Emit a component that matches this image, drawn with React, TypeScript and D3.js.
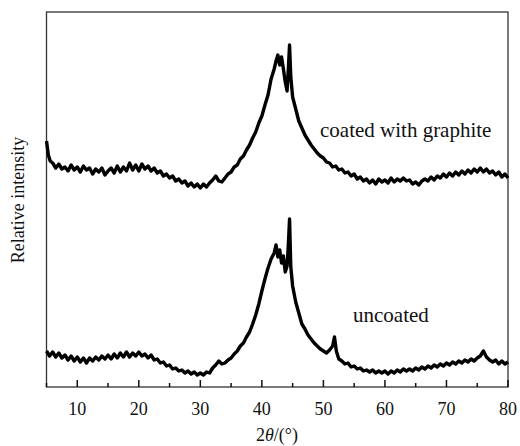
import React from "react";
import * as d3 from "d3";

const coatedTheta = [5.0,5.3,5.6,6.0,6.5,7.0,7.5,8.0,8.5,9.0,9.5,10.0,10.5,11.0,11.5,12.0,12.5,13.0,13.5,14.0,14.5,15.0,15.5,16.0,16.5,17.0,17.5,18.0,18.5,19.0,19.5,20.0,20.5,21.0,21.5,22.0,22.5,23.0,23.5,24.0,24.5,25.0,25.5,26.0,26.5,27.0,27.5,28.0,28.5,29.0,29.5,30.0,30.5,31.0,31.5,32.0,32.5,33.0,33.5,34.0,34.5,35.0,35.5,36.0,36.5,37.0,37.5,38.0,38.5,39.0,39.5,40.0,40.5,41.0,41.5,42.0,42.3,42.6,42.9,43.2,43.5,43.8,44.1,44.3,44.5,44.7,45.0,45.5,46.0,46.5,47.0,47.5,48.0,48.5,49.0,49.5,50.0,50.5,51.0,51.5,52.0,52.5,53.0,53.5,54.0,54.5,55.0,55.5,56.0,56.5,57.0,57.5,58.0,58.5,59.0,59.5,60.0,60.5,61.0,61.5,62.0,62.5,63.0,63.5,64.0,64.5,65.0,65.5,66.0,66.5,67.0,67.5,68.0,68.5,69.0,69.5,70.0,70.5,71.0,71.5,72.0,72.5,73.0,73.5,74.0,74.5,75.0,75.5,76.0,76.5,77.0,77.5,78.0,78.5,79.0,79.5,80.0];
const coatedIntensity = [246,232,226,224,219,223,218,220,216,222,217,220,215,221,217,219,213,218,215,219,212,216,219,214,221,215,220,216,224,217,222,216,223,218,221,216,219,214,216,211,213,209,211,206,208,204,206,201,204,200,203,199,203,200,204,207,211,206,205,209,213,215,220,222,228,231,237,242,249,255,264,271,282,292,308,318,326,332,322,330,318,305,296,318,342,310,290,278,266,259,252,247,242,238,234,231,229,225,224,220,221,217,218,214,215,211,213,208,210,206,208,204,207,203,208,205,207,204,209,205,208,206,209,206,207,203,205,202,206,208,206,210,207,211,209,213,210,214,211,215,212,216,213,217,214,218,215,219,215,218,214,216,212,215,210,213,209];

const uncoatedTheta = [5.0,5.5,6.0,6.5,7.0,7.5,8.0,8.5,9.0,9.5,10.0,10.5,11.0,11.5,12.0,12.5,13.0,13.5,14.0,14.5,15.0,15.5,16.0,16.5,17.0,17.5,18.0,18.5,19.0,19.5,20.0,20.5,21.0,21.5,22.0,22.5,23.0,23.5,24.0,24.5,25.0,25.5,26.0,26.5,27.0,27.5,28.0,28.5,29.0,29.5,30.0,30.5,31.0,31.5,32.0,32.5,33.0,33.5,34.0,34.5,35.0,35.5,36.0,36.5,37.0,37.5,38.0,38.5,39.0,39.5,40.0,40.5,41.0,41.5,42.0,42.3,42.6,42.9,43.2,43.5,43.8,44.1,44.3,44.5,44.7,45.0,45.5,46.0,46.5,47.0,47.5,48.0,48.5,49.0,49.5,50.0,50.5,51.0,51.5,51.8,52.1,52.5,53.0,53.5,54.0,54.5,55.0,55.5,56.0,56.5,57.0,57.5,58.0,58.5,59.0,59.5,60.0,60.5,61.0,61.5,62.0,62.5,63.0,63.5,64.0,64.5,65.0,65.5,66.0,66.5,67.0,67.5,68.0,68.5,69.0,69.5,70.0,70.5,71.0,71.5,72.0,72.5,73.0,73.5,74.0,74.5,75.0,75.5,76.0,76.5,77.0,77.5,78.0,78.5,79.0,79.5,80.0];
const uncoatedIntensity = [36,31,35,30,34,29,32,27,31,26,30,25,29,24,29,26,30,27,31,28,32,28,33,29,34,30,35,30,34,31,35,31,33,29,32,27,28,24,25,21,22,18,19,16,17,14,16,13,15,12,14,12,15,14,19,22,26,23,24,27,29,33,36,41,44,50,55,63,72,83,96,108,119,128,134,142,130,137,124,131,115,121,142,168,120,101,85,74,63,58,52,48,44,41,38,36,34,37,41,50,36,28,26,23,24,20,21,18,19,16,17,15,17,14,16,14,16,13,16,14,17,15,18,16,18,16,19,17,20,18,21,19,22,20,23,21,24,22,25,23,26,24,27,25,28,26,29,31,36,30,27,25,27,23,26,23,25];

const xTicks = [10, 20, 30, 40, 50, 60, 70, 80];
const xMinorTicks = [5, 15, 25, 35, 45, 55, 65, 75];
const seriesLabels = ["coated with graphite", "uncoated"];

const W = 520, H = 446;
const M = { left: 46.5, right: 508, top: 12, bottom: 387 };
const FONT = "\"Liberation Serif\", \"Times New Roman\", Times, \"DejaVu Serif\", serif";
const tStyle = { fontFamily: FONT };

export default function App() {
  const x = d3.scaleLinear().domain([5, 80]).range([M.left, M.right]);
  const y = d3.scaleLinear().domain([0, 375]).range([M.bottom, M.top]);
  const line = d3.line<[number, number]>().x(d => x(d[0])).y(d => y(d[1]));
  const coated = coatedTheta.map((t, i) => [t, coatedIntensity[i]] as [number, number]);
  const uncoated = uncoatedTheta.map((t, i) => [t, uncoatedIntensity[i]] as [number, number]);
  return (
    <svg width={W} height={H} style={{ position: "absolute", left: 0, top: 0, background: "#fff" }}>
      <rect x={M.left} y={M.top} width={M.right - M.left} height={M.bottom - M.top} fill="none" stroke="#333" strokeWidth={1.3} />
      {xTicks.map(t => (
        <g key={t}>
          <line x1={x(t)} x2={x(t)} y1={M.bottom} y2={M.bottom - 7} stroke="#111" strokeWidth={1.5} />
          <text x={x(t)} y={415} textAnchor="middle" fontSize={18} fill="#111" style={tStyle}>{t}</text>
        </g>
      ))}
      {xMinorTicks.map(t => (
        <line key={t} x1={x(t)} x2={x(t)} y1={M.bottom} y2={M.bottom - 4} stroke="#111" strokeWidth={1.5} />
      ))}
      <path d={line(coated) || ""} fill="none" stroke="#000" strokeWidth={3.4} strokeLinejoin="round" />
      <path d={line(uncoated) || ""} fill="none" stroke="#000" strokeWidth={3.4} strokeLinejoin="round" />
      <text x={320} y={137} fontSize={21} fill="#111" style={tStyle}>{seriesLabels[0]}</text>
      <text x={353} y={322} fontSize={21} fill="#111" style={tStyle}>{seriesLabels[1]}</text>
      <text x={277} y={441} textAnchor="middle" fontSize={18} fill="#111" style={tStyle}>
        2<tspan fontStyle="italic">θ</tspan>/(°)
      </text>
      <text transform={`translate(24,${200}) rotate(-90)`} textAnchor="middle" fontSize={18} fill="#111" style={tStyle}>Relative intensity</text>
    </svg>
  );
}
